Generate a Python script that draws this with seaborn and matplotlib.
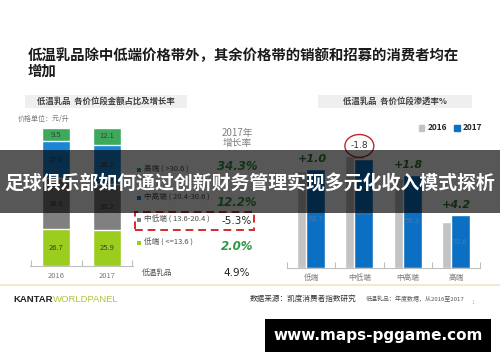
import numpy as np
import pandas as pd
import matplotlib
matplotlib.use('Agg')
import matplotlib.pyplot as plt
import seaborn as sns
from matplotlib.patches import Rectangle, Ellipse, Patch

# ------------------------------------------------
# Data
# ------------------------------------------------
years = ['2016', '2017']
segments = ['低端', '中低端', '中高端', '高端']          # bottom -> top
seg_ranges = ['( <=13.6 )', '( 13.6-20.4 )', '( 20.4-30.6 )', '( >30.6 )']
share_2016 = [26.7, 36.8, 27.0, 9.5]
share_2017 = [25.9, 33.2, 28.7, 12.1]
growth_2017 = ['2.0%', '-5.3%', '12.2%', '34.3%']
total_label = '低温乳品'
total_growth = '4.9%'

bands = ['低端', '中低端', '中高端', '高端']
pen_2016 = [61.7, 71.3, 57.4, 29.4]
pen_2017 = [62.7, 69.5, 59.2, 33.6]
pen_change = ['+1.0', '-1.8', '+1.8', '+4.2']

title = '低温乳品除中低端价格带外，其余价格带的销额和招募的消费者均在\n增加'
overlay_text = '足球俱乐部如何通过创新财务管理实现多元化收入模式探析'
url_text = 'www.maps-pggame.com'

seg_colors = ['#9acd1e', '#808080', '#1a86d4', '#3da95a']
green_txt = '#2f9a45'

# ------------------------------------------------
# Setup
# ------------------------------------------------
sns.set_theme(style='white')
plt.rcParams['font.family'] = ['Noto Sans CJK SC', 'DejaVu Sans']

W, H = 500, 362
fig = plt.figure(figsize=(W / 100, H / 100), dpi=100)
fig.patch.set_facecolor('white')


def fx(px):
    return px / W


def fy(py):
    return 1 - py / H


fig.text(fx(28), fy(64), title, fontsize=10.4, fontweight='bold', color='#1a1a1a',
         ha='left', va='center', linespacing=1.15)

# ------------------------------------------------
# Left: stacked share bars
# ------------------------------------------------
axL = fig.add_axes([fx(30), fy(266), fx(103), (266 - 128) / H])
df = pd.DataFrame({'year': np.repeat(years, len(segments)),
                   'segment': segments * 2,
                   'share': share_2016 + share_2017})
df['cum'] = df.groupby('year')['share'].cumsum()

for i in range(len(segments) - 1, -1, -1):
    sub = df[df['segment'] == segments[i]]
    sns.barplot(data=sub, x='year', y='cum', color=seg_colors[i], saturation=1,
                width=0.55, errorbar=None, ax=axL)
    for j, (_, r) in enumerate(sub.iterrows()):
        axL.text(j, r['cum'] - r['share'] / 2, f"{r['share']:.1f}", ha='center',
                 va='center', fontsize=5.5, color='#3c3c3c')

axL.set_xlim(-0.51, 1.51)
axL.set_ylim(0, 100)
axL.set_xlabel('')
axL.set_ylabel('')
axL.set_yticks([])
axL.tick_params(axis='x', length=0, labelsize=5.5, labelcolor='#7a7a7a', pad=4)
axL.set_xticks([-0.5, 0.5, 1.5], minor=True)
axL.tick_params(axis='x', which='minor', bottom=True, direction='in', length=4,
                color='#bfbfbf', width=0.8)
for s in ['top', 'right', 'left']:
    axL.spines[s].set_visible(False)
axL.spines['bottom'].set_color('#bfbfbf')
axL.spines['bottom'].set_linewidth(0.8)

fig.add_artist(Rectangle((fx(25), fy(108)), fx(162), 13 / H, transform=fig.transFigure,
                         facecolor='#efefef', edgecolor='none'))
fig.text(fx(106), fy(101.5), '低温乳品  各价位段金额占比及增长率', fontsize=6,
         fontweight='bold', color='#404040', ha='center', va='center')
fig.text(fx(18), fy(119), '价格单位：元/升', fontsize=5, style='italic',
         color='#7a7a7a', ha='left', va='center')

# legend column with growth rates
row_y = [243, 220, 198, 170]
growth_y = [247, 221, 203, 166]
for i in range(len(segments)):
    fig.add_artist(Rectangle((fx(137), fy(row_y[i] + 2)), fx(4), 4 / H,
                             transform=fig.transFigure, facecolor=seg_colors[i],
                             edgecolor='none'))
    fig.text(fx(144), fy(row_y[i]), f'{segments[i]} {seg_ranges[i]}', fontsize=5.5,
             color='#505050', ha='left', va='center')
    neg = growth_2017[i].startswith('-')
    fig.text(fx(237), fy(growth_y[i]), growth_2017[i], fontsize=7.5 if neg else 8.5,
             fontweight='normal' if neg else 'bold', style='normal' if neg else 'italic',
             color='#222222' if neg else green_txt, ha='center', va='center',
             family=['DejaVu Sans'])
fig.text(fx(142), fy(273), total_label, fontsize=5.5, color='#505050', ha='left', va='center')
fig.text(fx(237), fy(273), total_growth, fontsize=7.5, color='#222222', ha='center',
         va='center', family=['DejaVu Sans'])
fig.text(fx(237), fy(138), '2017年\n增长率', fontsize=7, style='italic', color='#808080',
         ha='center', va='center', linespacing=1.1)
fig.add_artist(Rectangle((fx(135), fy(230)), fx(119), 18 / H, transform=fig.transFigure,
                         facecolor='none', edgecolor='#d42a2a', linewidth=1.4,
                         linestyle=(0, (4, 2.5))))

# ------------------------------------------------
# Right: penetration bars
# ------------------------------------------------
axR = fig.add_axes([fx(287), fy(268), fx(193), 126 / H])
pos = np.arange(len(bands))
off = 0.093
sns.barplot(x=pos - off, y=pen_2016, native_scale=True, width=0.39, color='#c3c3c3',
            saturation=1, errorbar=None, ax=axR)
sns.barplot(x=pos + off, y=pen_2017, native_scale=True, width=0.39, color='#0b70c4',
            saturation=1, errorbar=None, ax=axR)
for i in range(len(bands)):
    axR.text(pos[i] + off, pen_2017[i] / 2, f'{pen_2017[i]:.1f}', ha='center', va='center',
             fontsize=5.5, color='#4f77a8')
    neg = pen_change[i].startswith('-')
    axR.text(pos[i] + (0.0 if neg else 0.02), pen_2017[i] + (8 if neg else 6.5),
             pen_change[i], ha='center', va='center',
             fontsize=6.5 if neg else 8, fontweight='normal' if neg else 'bold',
             style='normal' if neg else 'italic',
             color='#333333' if neg else '#2e7d32', family=['DejaVu Sans'])
    if neg:
        axR.add_patch(Ellipse((pos[i], pen_2017[i] + 8), 0.6, 14.5, facecolor='none',
                              edgecolor='#c0282d', linewidth=1.0, clip_on=False))

axR.set_xlim(-0.5, 3.5)
axR.set_ylim(0, 80)
axR.set_xticks(pos, bands)
axR.set_yticks([])
axR.set_xlabel('')
axR.set_ylabel('')
axR.tick_params(axis='x', length=0, labelsize=5.5, labelcolor='#7a7a7a', pad=4)
axR.set_xticks(np.arange(-0.5, 4, 1), minor=True)
axR.tick_params(axis='x', which='minor', bottom=True, direction='in', length=4,
                color='#bfbfbf', width=0.8)
for s in ['top', 'right', 'left']:
    axR.spines[s].set_visible(False)
axR.spines['bottom'].set_color('#bfbfbf')
axR.spines['bottom'].set_linewidth(0.8)

fig.add_artist(Rectangle((fx(318), fy(108)), fx(154), 13 / H, transform=fig.transFigure,
                         facecolor='#efefef', edgecolor='none'))
fig.text(fx(395), fy(101.5), '低温乳品  各价位段渗透率%', fontsize=6, fontweight='bold',
         color='#404040', ha='center', va='center')
fig.legend(handles=[Patch(color='#c3c3c3', label='2016'), Patch(color='#0b70c4', label='2017')],
           loc='center right', bbox_to_anchor=(fx(490), fy(128)), ncol=2, frameon=False,
           handlelength=0.7, handleheight=0.7, handletextpad=0.4,
           columnspacing=0.8, prop={'weight': 'bold', 'size': 6})

# ------------------------------------------------
# Footer
# ------------------------------------------------
fig.add_artist(plt.Line2D([0, 1], [fy(285), fy(285)], transform=fig.transFigure,
                          color='#efe4c4', linewidth=1.2))
fig.text(fx(13), fy(300), 'KANTAR', fontsize=6.8, fontweight='bold', color='#222222',
         ha='left', va='center', family=['Liberation Sans'])
fig.text(fx(53), fy(300), 'WORLDPANEL', fontsize=6.8, color='#a9c83a', ha='left',
         va='center', family=['Liberation Sans'])
fig.text(fx(250), fy(299), '数据来源：凯度消费者指数研究', fontsize=5.5, color='#333333',
         ha='left', va='center')
fig.text(fx(366), fy(299), '低温乳品：年度数据，从2016至2017', fontsize=4.3, style='italic',
         color='#555555', ha='left', va='center')
fig.text(fx(473), fy(302), '1', fontsize=4, color='#bbbbbb', ha='center', va='center')

# ------------------------------------------------
# Overlays
# ------------------------------------------------
fig.add_artist(Rectangle((0, fy(213)), 1, 63 / H, transform=fig.transFigure,
                         facecolor='black', alpha=0.66, edgecolor='none', zorder=10))
fig.text(0.5, fy(183), overlay_text, fontsize=13.6, fontweight='bold', color='white',
         ha='center', va='center', zorder=11)
fig.add_artist(Rectangle((fx(265), fy(352)), fx(226), 33 / H, transform=fig.transFigure,
                         facecolor='black', edgecolor='none', zorder=10))
fig.text(fx(378), fy(335.5), url_text, fontsize=11, fontweight='bold', color='white',
         ha='center', va='center', zorder=11, family=['DejaVu Sans'])

fig.savefig('out.png', dpi=100)
